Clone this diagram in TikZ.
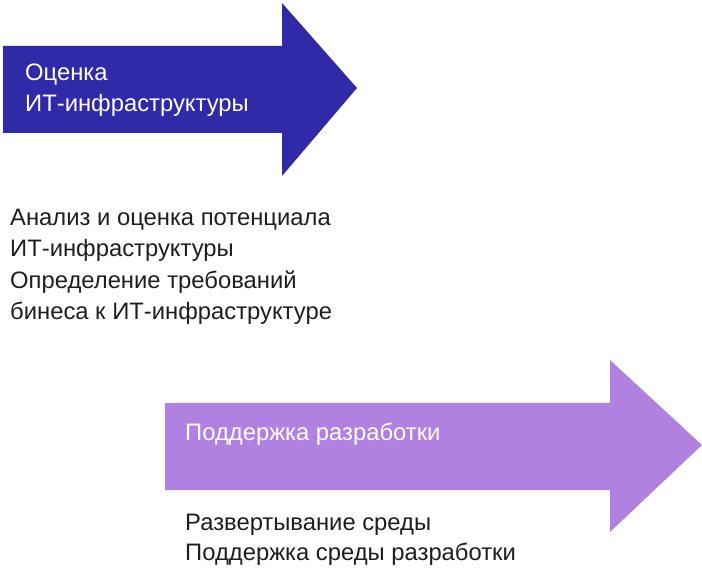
\documentclass[tikz,border=0pt]{standalone}
\usepackage{fontspec}
\setmainfont{Liberation Sans}
\definecolor{darkblue}{HTML}{3029A8}
\definecolor{lilac}{HTML}{B181E2}
\definecolor{bodytext}{HTML}{1E1E1E}
\tikzset{
  x=1pt, y=-1pt,
  headtext/.style={anchor=base west, inner sep=0pt, text=white, font=\fontsize{23.8}{28}\selectfont},
  bodyline/.style={anchor=base west, inner sep=0pt, text=bodytext, font=\fontsize{23.8}{28}\selectfont},
}
\begin{document}
\begin{tikzpicture}
\useasboundingbox (0,0) rectangle (702,577);
% arrow 1
\fill[darkblue] (3,46) -- (282,46) -- (282,3) -- (357,88) -- (282,176) -- (282,133) -- (3,133) -- cycle;
% arrow 2
\fill[lilac] (165,403) -- (610,403) -- (610,360) -- (702,445) -- (610,532) -- (610,490) -- (165,490) -- cycle;
\node[headtext] (h1a) at (25,81) {Оценка};
\node[headtext] (h1b) at (25,112) {ИТ-инфраструктуры};
\node[bodyline] (b1) at (10,226) {Анализ и оценка потенциала};
\node[bodyline] (b2) at (10,257) {ИТ-инфраструктуры};
\node[bodyline] (b3) at (10,289) {Определение требований};
\node[bodyline] (b4) at (10,320) {бинеса к ИТ-инфраструктуре};
\node[headtext] (h2) at (185,440) {Поддержка разработки};
\node[bodyline] (c1) at (185,530) {Развертывание среды};
\node[bodyline] (c2) at (185,560) {Поддержка среды разработки};
\end{tikzpicture}
\end{document}
